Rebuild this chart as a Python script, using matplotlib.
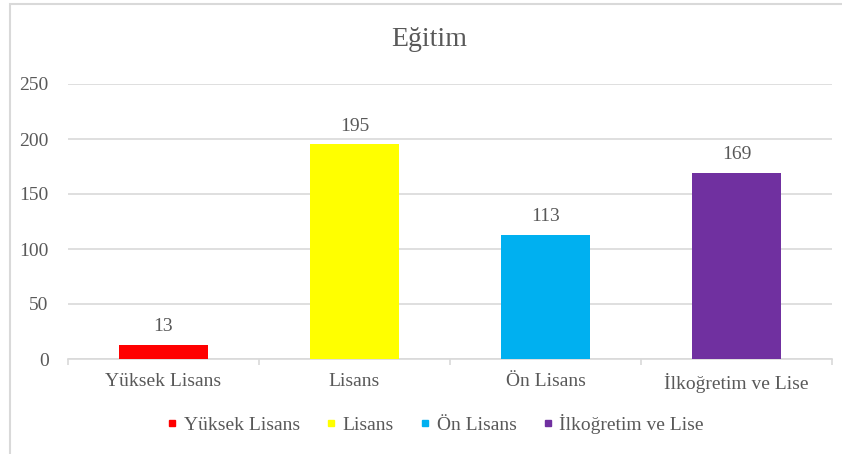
import numpy as np
import matplotlib.pyplot as plt
from matplotlib.lines import Line2D
from matplotlib.patches import Rectangle

# data
categories = ['Yüksek Lisans', 'Lisans', 'Ön Lisans', 'İlkoğretim ve Lise']
values = [13, 195, 113, 169]
colors = ['#FF0000', '#FFFF00', '#00B0F0', '#7030A0']
yticks = [0, 50, 100, 150, 200, 250]
title = 'Eğitim'

TXT = '#595959'
GRID = '#d9d9d9'
plt.rcParams['font.family'] = ['Liberation Serif', 'DejaVu Serif']

fig = plt.figure(figsize=(8.42, 4.54), dpi=100)
ax = fig.add_axes([68/842, 1-359/454, (832-68)/842, (359-84)/454])

x = np.arange(len(categories))
bars = ax.bar(x, values, width=0.47, color=colors, zorder=3)
for b, v in zip(bars, values):
    ax.annotate(str(v), (b.get_x() + b.get_width()/2, v), xytext=(0, 7),
                textcoords='offset points', ha='center', va='bottom',
                fontsize=14, color=TXT)

ax.set_xlim(-0.5, len(categories) - 0.5)
ax.set_ylim(0, 250)
ax.set_yticks(yticks)
ax.yaxis.grid(True, color=GRID, lw=1.2)
ax.set_axisbelow(True)
for s in ['top', 'right', 'left']:
    ax.spines[s].set_visible(False)
ax.spines['bottom'].set_color(GRID)
ax.spines['bottom'].set_linewidth(1.2)

ax.set_xticks(x)
ax.set_xticklabels(categories)
ax.set_xticks(np.arange(-0.5, len(categories)), minor=True)
ax.tick_params(axis='x', which='major', length=0, pad=10, labelsize=14, labelcolor=TXT)
ax.tick_params(axis='x', which='minor', length=4, color=GRID, width=1.2)
ax.tick_params(axis='y', length=0, pad=14, labelsize=14, labelcolor=TXT)

fig.text(0.51, 1-40/454, title, ha='center', va='center', fontsize=20, color=TXT)

handles = [Line2D([], [], ls='none', marker='s', markersize=5, color=c) for c in colors]
fig.legend(handles, categories, loc='center', bbox_to_anchor=(435/842, 1-424/454),
           ncol=4, frameon=False, fontsize=14, labelcolor=TXT,
           handlelength=0.6, handletextpad=0.3, columnspacing=1.3,
           borderpad=0, borderaxespad=0)

# chart frame
fig.patches.append(Rectangle((10/842, -0.05), 1.1, 1.05 - 4/454, transform=fig.transFigure,
                             fill=False, edgecolor=GRID, lw=1.5))

fig.savefig('out.png', dpi=100)
